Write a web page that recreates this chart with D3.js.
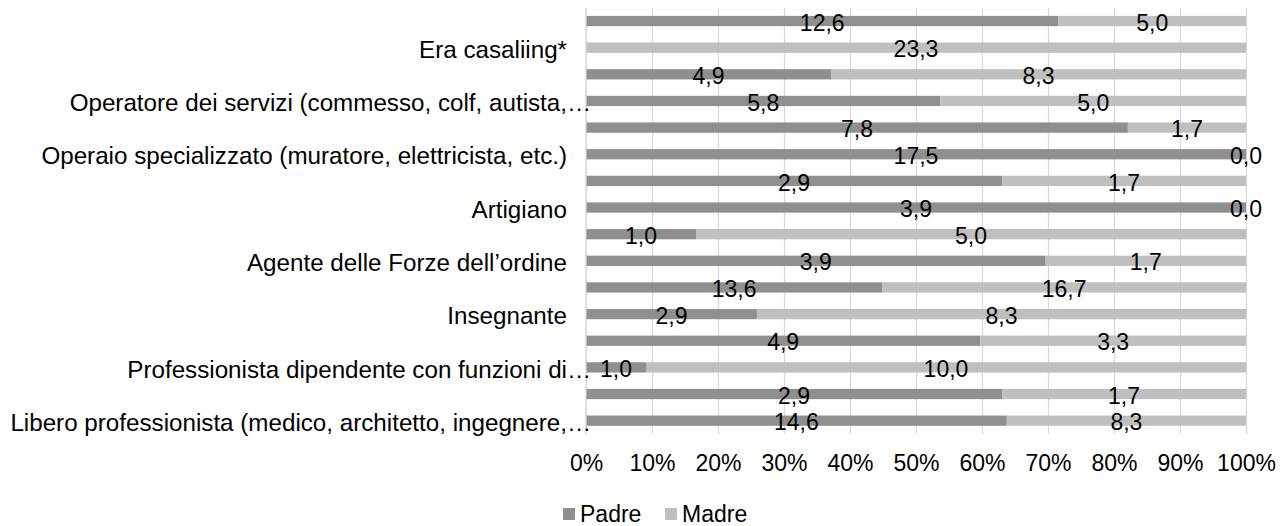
<!DOCTYPE html>
<html>
<head>
<meta charset="utf-8">
<script src="https://cdn.jsdelivr.net/npm/d3@7"></script>
<style>
  html, body { margin: 0; padding: 0; background: #fff; }
  svg { display: block; font-family: "Liberation Sans", Arial, sans-serif; }
</style>
</head>
<body>
<svg id="chart" width="1281" height="526"></svg>
<script>
// Categories top -> bottom (null = label hidden in the original chart)
const categories = [
  null,
  "Era casaliing*",
  null,
  "Operatore dei servizi (commesso, colf, autista,…",
  null,
  "Operaio specializzato (muratore, elettricista, etc.)",
  null,
  "Artigiano",
  null,
  "Agente delle Forze dell’ordine",
  null,
  "Insegnante",
  null,
  "Professionista dipendente con funzioni di…",
  null,
  "Libero professionista (medico, architetto, ingegnere,…"
];
const padre = [12.6, null, 4.9, 5.8, 7.8, 17.5, 2.9, 3.9, 1.0, 3.9, 13.6, 2.9, 4.9, 1.0, 2.9, 14.6];
const madre = [5.0, 23.3, 8.3, 5.0, 1.7, 0.0, 1.7, 0.0, 5.0, 1.7, 16.7, 8.3, 3.3, 10.0, 1.7, 8.3];
const seriesNames = ["Padre", "Madre"];
const tickValues = [0, 0.1, 0.2, 0.3, 0.4, 0.5, 0.6, 0.7, 0.8, 0.9, 1.0];

(function () {
const colors = { Padre: "#8f8f8f", Madre: "#bfbfbf" };
const FONT = 23, CAT_FONT = 24.2;

const svg = d3.select("#chart");
const pLeft = 586, pRight = 1246, pTop = 7.7, pBottom = 434;

const x = d3.scaleLinear().domain([0, 1]).range([pLeft, pRight]);
const y = d3.scaleBand().domain(d3.range(categories.length))
  .range([pTop, pBottom]).paddingInner(0.615).paddingOuter(0.3075);

// gridlines
const grid = svg.append("g").attr("transform", `translate(0,${pBottom})`)
  .call(d3.axisBottom(x).tickValues(tickValues).tickSize(-(pBottom - pTop)).tickFormat(""));
grid.select(".domain").remove();
grid.selectAll("line").attr("stroke", "#d9d9d9").attr("stroke-width", 1.3);

// rows
const rows = categories.map((c, i) => {
  const p = padre[i] == null ? 0 : padre[i];
  const m = madre[i] == null ? 0 : madre[i];
  const tot = p + m;
  return { i, p: padre[i], m: madre[i], pShare: p / tot, mShare: m / tot };
});

const fmt = v => d3.format(".1f")(v).replace(".", ",");

const bars = svg.append("g");
rows.forEach(r => {
  const yy = y(r.i), h = y.bandwidth();
  if (r.p != null) {
    bars.append("rect").attr("x", x(0)).attr("y", yy)
      .attr("width", x(r.pShare) - x(0)).attr("height", h).attr("fill", colors.Padre);
  }
  if (r.m != null) {
    bars.append("rect").attr("x", x(r.pShare)).attr("y", yy)
      .attr("width", x(1) - x(r.pShare)).attr("height", h).attr("fill", colors.Madre);
  }
});

// axis line at 0%
svg.append("line").attr("x1", x(0)).attr("x2", x(0)).attr("y1", pTop).attr("y2", pBottom)
  .attr("stroke", "#d9d9d9").attr("stroke-width", 1.3);

// data labels
const labels = svg.append("g").attr("font-size", FONT).attr("fill", "#000").attr("text-anchor", "middle");
rows.forEach(r => {
  const cy = y(r.i) + y.bandwidth() / 2;
  if (r.p != null) {
    labels.append("text").attr("x", x(r.pShare / 2)).attr("y", cy).attr("dy", "0.42em").text(fmt(r.p));
  }
  if (r.m != null) {
    labels.append("text").attr("x", x(r.pShare + r.mShare / 2)).attr("y", cy).attr("dy", "0.42em").text(fmt(r.m));
  }
});

// category labels
const catG = svg.append("g").attr("font-size", CAT_FONT).attr("fill", "#000").attr("text-anchor", "end");
const probe = catG.append("text").text("…");
const ellW = probe.node().getComputedTextLength();
probe.remove();
categories.forEach((c, i) => {
  if (c == null) return;
  const cy = y(i) + y.bandwidth() / 2;
  const extra = c.endsWith("…") ? ellW : 0;
  catG.append("text").attr("x", 567 + extra).attr("y", cy).attr("dy", "0.42em").text(c);
});

// x tick labels
const xa = svg.append("g").attr("transform", `translate(0,${pBottom})`)
  .call(d3.axisBottom(x).tickValues(tickValues).tickSize(0).tickPadding(0).tickFormat(d3.format(".0%")));
xa.select(".domain").remove();
xa.selectAll("text").attr("font-size", FONT).attr("fill", "#000")
  .attr("font-family", "Liberation Sans, Arial, sans-serif")
  .attr("dy", null).attr("y", 37);

// legend
const lg = svg.append("g").attr("font-size", FONT).attr("fill", "#000");
const legendX = { Padre: 563, Madre: 665 };
seriesNames.forEach(s => {
  lg.append("rect").attr("x", legendX[s]).attr("y", 508).attr("width", 12).attr("height", 12).attr("fill", colors[s]);
  lg.append("text").attr("x", legendX[s] + 17).attr("y", 514).attr("dy", "0.36em").text(s);
});
})();
</script>
</body>
</html>
